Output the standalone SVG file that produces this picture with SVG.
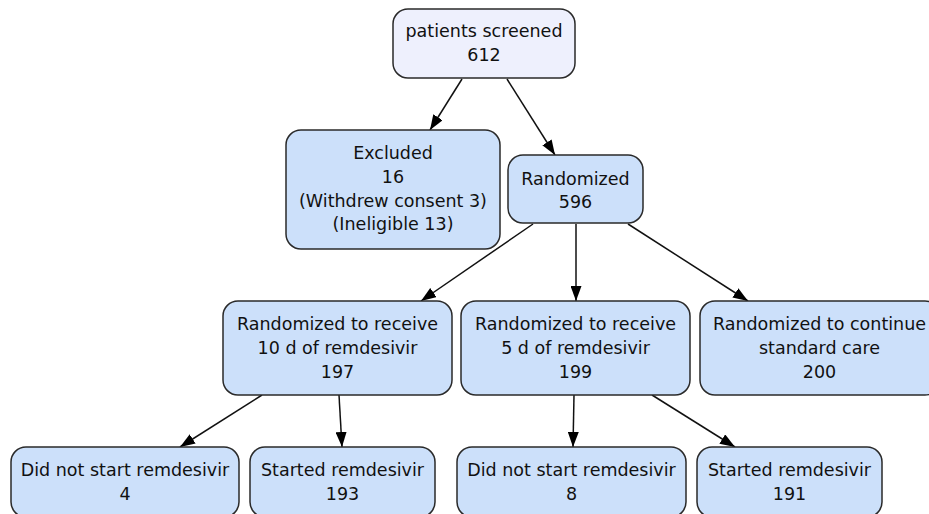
<svg xmlns="http://www.w3.org/2000/svg" width="929" height="514" viewBox="0 0 929 514">
<style>
  .box { fill: #cce0fa; stroke: #2a2a2a; stroke-width: 1.5; }
  .top { fill: #eef0fd; }
  text { font-family: "DejaVu Sans", Verdana, sans-serif; font-size: 17.5px; fill: #111; text-anchor: middle; }
  .edge { stroke: #111; stroke-width: 1.5; fill: none; marker-end: url(#arr); }
</style>
<defs>
  <marker id="arr" viewBox="0 0 15 11" refX="15" refY="5.5" markerWidth="15" markerHeight="11" orient="auto" markerUnits="userSpaceOnUse">
    <path d="M0,0 L15,5.5 L0,11 z" fill="#000"/>
  </marker>
</defs>
<rect width="929" height="514" fill="#fff"/>
<g id="connectors">
  <line class="edge" x1="462" y1="79" x2="430" y2="130"/>
  <line class="edge" x1="507" y1="79" x2="555" y2="155"/>
  <line class="edge" x1="533" y1="224" x2="421" y2="301"/>
  <line class="edge" x1="576" y1="224" x2="576" y2="301"/>
  <line class="edge" x1="628" y1="224" x2="748" y2="301"/>
  <line class="edge" x1="262" y1="395" x2="180" y2="447"/>
  <line class="edge" x1="339" y1="395" x2="342" y2="447"/>
  <line class="edge" x1="574" y1="395" x2="573" y2="447"/>
  <line class="edge" x1="652" y1="395" x2="735" y2="447"/>
</g>
<g id="screened">
  <rect class="box top" x="393" y="9" width="182" height="69" rx="15"/>
  <text x="484" y="37">patients screened</text>
  <text x="484" y="61">612</text>
</g>
<g id="excluded">
  <rect class="box" x="286" y="130" width="214" height="119" rx="15"/>
  <text x="393" y="159">Excluded</text>
  <text x="393" y="183">16</text>
  <text x="393" y="207">(Withdrew consent 3)</text>
  <text x="393" y="230">(Ineligible 13)</text>
</g>
<g id="randomized">
  <rect class="box" x="508" y="155" width="135" height="68" rx="15"/>
  <text x="575.5" y="185">Randomized</text>
  <text x="575.5" y="208">596</text>
</g>
<g id="r10">
  <rect class="box" x="223" y="301" width="229" height="94" rx="15"/>
  <text x="337.5" y="330">Randomized to receive</text>
  <text x="337.5" y="354">10 d of remdesivir</text>
  <text x="337.5" y="377.5">197</text>
</g>
<g id="r5">
  <rect class="box" x="461" y="301" width="229" height="94" rx="15"/>
  <text x="575.5" y="330">Randomized to receive</text>
  <text x="575.5" y="354">5 d of remdesivir</text>
  <text x="575.5" y="377.5">199</text>
</g>
<g id="standard">
  <rect class="box" x="700" y="301" width="240" height="94" rx="15"/>
  <text x="819.5" y="330">Randomized to continue</text>
  <text x="819.5" y="354">standard care</text>
  <text x="819.5" y="377.5">200</text>
</g>
<g id="r10-notstarted">
  <rect class="box" x="11" y="447" width="228" height="70" rx="15"/>
  <text x="125" y="476">Did not start remdesivir</text>
  <text x="125" y="499.5">4</text>
</g>
<g id="r10-started">
  <rect class="box" x="250" y="447" width="185" height="70" rx="15"/>
  <text x="342.5" y="476">Started remdesivir</text>
  <text x="342.5" y="499.5">193</text>
</g>
<g id="r5-notstarted">
  <rect class="box" x="457" y="447" width="229" height="70" rx="15"/>
  <text x="571.5" y="476">Did not start remdesivir</text>
  <text x="571.5" y="499.5">8</text>
</g>
<g id="r5-started">
  <rect class="box" x="697" y="447" width="185" height="70" rx="15"/>
  <text x="789.5" y="476">Started remdesivir</text>
  <text x="789.5" y="499.5">191</text>
</g>
</svg>
